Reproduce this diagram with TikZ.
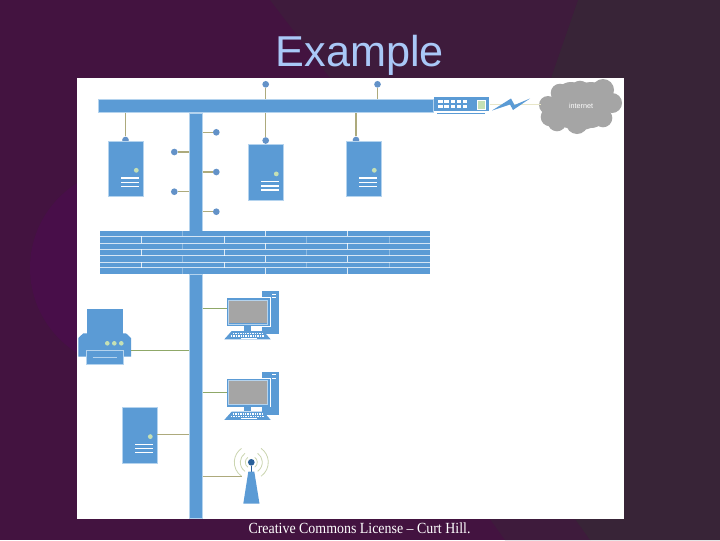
\documentclass[tikz,border=0pt]{standalone}
\usepackage{fontspec}
\setmainfont{Liberation Sans}
\newfontfamily\footfont[FakeStretch=.9]{Liberation Serif}
\usetikzlibrary{calc,positioning}
\definecolor{slidebg}{HTML}{431340}
\definecolor{slideglow}{HTML}{480E49}
\definecolor{slidemid}{HTML}{3E1B3C}
\definecolor{slideend}{HTML}{382437}
\definecolor{titleblue}{HTML}{A9C8F7}
\definecolor{netblue}{HTML}{5B9BD5}
\definecolor{dotblue}{HTML}{6392C8}
\definecolor{edgeblue}{HTML}{B4D3EE}
\definecolor{mastblue}{HTML}{2A6099}
\definecolor{wiretan}{HTML}{ADAA7C}
\definecolor{wiregreen}{HTML}{8FA868}
\definecolor{ledgreen}{HTML}{C5E0B4}
\definecolor{wavegreen}{HTML}{CBD5B0}
\definecolor{paletan}{HTML}{E8E6C8}
\definecolor{cloudgrey}{HTML}{A5A5A5}
\tikzset{
  pxbox/.style 2 args={rectangle,inner sep=0pt,anchor=north west,minimum width=#1*.75pt,minimum height=#2*.75pt},
  netbar/.style={fill=netblue,draw=edgeblue,line width=.3pt},
  netdot/.style={circle,fill=dotblue,inner sep=0pt,minimum size=5pt},
  wire/.style={wiretan,line width=.8pt},
  greenwire/.style={wiregreen,line width=.8pt},
  brick/.style={white,line width=.5pt,opacity=.8},
  fadebrick/.style={white,line width=.5pt,opacity=.3},
  serverunit/.pic={
    \node[pxbox={35}{55.5},netbar] (-box) at (0,0) {};
    \fill[ledgreen] (28.3,29.6) circle (2.4);
    \foreach \ly in {37.3,41.6,45.6}
      \draw[white,line width=1pt] (13,\ly) -- (31,\ly);
  },
  pcunit/.pic={
    \fill[netblue] (34.7,-6.7) rectangle (52,36.3);
    \draw[white,line width=.7pt] (45.3,-3.4) -- (49.3,-3.4) (45.3,0) -- (49.3,0);
    \fill[white] (-.7,-.7) rectangle (44,29);
    \node[pxbox={43}{28},fill=netblue] (-box) at (0,0) {};
    \fill[cloudgrey] (2.3,3) rectangle (39.7,25.6);
    \draw[edgeblue,line width=.4pt] (1.6,2.3) rectangle (40.4,26.3);
    \fill[netblue] (17,28) rectangle (23.7,33);
    \fill[netblue] (4.7,33.3) -- (36.3,33.3) -- (43.7,41.6) -- (-2.7,41.6) -- cycle;
    \draw[white,line width=.9pt,dash pattern=on 1pt off .8pt] (6,35.6) -- (35,35.6) (4,38.2) -- (37,38.2);
    \draw[white,line width=.8pt] (14,40.4) -- (30,40.4);
  }
}
\begin{document}
\begin{tikzpicture}[x=.75pt,y=-.75pt]
  \useasboundingbox (0,0) rectangle (720,540);
  \fill[slidebg] (0,0) rectangle (720,540);
  \fill[slideglow] (130,268) circle (100);
  \fill[slidemid] (270,0) -- (578,0) -- (551,78) -- (575,519) -- (590,540) -- (505,540) -- (490,519) -- (330,78) -- cycle;
  \fill[slideend] (578,0) -- (720,0) -- (720,540) -- (590,540) -- (575,519) -- (551,78) -- cycle;
  \node[pxbox={547}{441},fill=white] (panel) at (77,78) {};
  \node[font=\fontsize{32.4}{36}\selectfont,text=titleblue,inner sep=0pt] (title) at (360,55) {Example};
  \node[font=\footfont\fontsize{11.6}{13}\selectfont,text=white,inner sep=0pt] (credit) at (359.5,528) {Creative Commons License – Curt Hill.};

  % upper network
  \node[pxbox={335}{13.5},netbar] (topbus) at (98,98.7) {};
  \node[pxbox={13.3}{118.3},netbar] (midbus) at (189,112.7) {};
  \node[netdot] (upa) at (265.7,84.3) {};
  \node[netdot] (upb) at (377.5,84.3) {};
  \draw[wire] (upa) -- (upa |- topbus.north);
  \draw[wire] (upb) -- (upb |- topbus.north);

  \node[netdot] (srvadot) at (125.5,140) {};
  \node[netdot] (srvbdot) at (265.7,140.5) {};
  \node[netdot] (srvcdot) at (356,140) {};
  \draw[wire] (srvadot) -- (srvadot |- topbus.south);
  \draw[wire] (srvbdot) -- (srvbdot |- topbus.south);
  \draw[wire] (srvcdot) -- (srvcdot |- topbus.south);
  \pic (srva) at (108,140.7) {serverunit};
  \pic (srvb) at (248,144.3) {serverunit};
  \pic (srvc) at (346,140.7) {serverunit};

  \node[netdot] (ra) at (216.3,132.3) {};
  \node[netdot] (rb) at (216.3,172) {};
  \node[netdot] (rc) at (216.3,211.7) {};
  \node[netdot] (la) at (174.3,152) {};
  \node[netdot] (lb) at (174.3,191.7) {};
  \foreach \hop in {ra,rb,rc}
    \draw[wire] (\hop) -- (\hop -| midbus.east);
  \foreach \hop in {la,lb}
    \draw[wire] (\hop) -- (\hop -| midbus.west);

  % switch, link and cloud
  \node[pxbox={55.7}{14},fill=netblue] (switch) at (433.3,97) {};
  \foreach \px in {440.5,446.6,452.7,458.8,464.9}
    \foreach \py in {101.2,106}
      \fill[white] (\px-2.2,\py-1.5) rectangle (\px+2.2,\py+1.5);
  \fill[ledgreen,draw=white,line width=.3pt] (476.7,99.7) rectangle (485.3,108.7);
  \draw[netblue,line width=1.1pt] (437,113.5) -- (485,113.5);
  \begin{scope}[shift={(581,106)}]
    \fill[cloudgrey] (0,0) circle (24);
    \foreach \cx/\cy/\cr in {-33/-1/9,-21/-13/9.3,-1/-16/9.3,22/-16/11,31/-3/10,22/12/9.3,-4/17/11,-24/16/9.3,-31/11/9.3,-10/-8/16,10/-8/16,10/6/16,-12/6/16}
      \fill[cloudgrey] (\cx,\cy) circle (\cr);
    \node[font=\fontsize{5.4}{6}\selectfont,text=white,inner sep=0pt] (cloud) at (0,0) {internet};
    \coordinate (cloudedge) at (-40,0);
  \end{scope}
  \draw[paletan,line width=.6pt] (switch.east) -- (cloudedge |- switch.east);
  \fill[netblue] (492,110.5) -- (511,98.5) -- (514.5,105) -- (530,98.5) -- (513,110) -- (510,104.5) -- cycle;

  % wall
  \node[pxbox={330}{43.3},fill=netblue] (wall) at (100,230.7) {};
  \foreach \wy in {236.3,243,249.3,255.7,262,267.7}
    \draw[white,opacity=.75,line width=.45pt] (100,\wy) -- (430,\wy);
  \foreach \wt/\wb in {230.7/236.3,243/249.3,255.7/262,267.7/274}{
    \draw[fadebrick] (182.3,\wt) -- (182.3,\wb);
    \draw[brick] (265.3,\wt) -- (265.3,\wb);
    \draw[brick] (347.7,\wt) -- (347.7,\wb);
  }
  \foreach \wt/\wb in {236.3/243,249.3/255.7,262/267.7}{
    \draw[brick] (141.7,\wt) -- (141.7,\wb);
    \draw[brick] (224.3,\wt) -- (224.3,\wb);
    \draw[fadebrick] (306.7,\wt) -- (306.7,\wb);
    \draw[fadebrick] (389.3,\wt) -- (389.3,\wb);
  }

  % lower network
  \node[pxbox={13.3}{244.5},netbar] (lowbus) at (189,273.8) {};
  \pic (pca) at (227,297.7) {pcunit};
  \pic (pcb) at (227,378.3) {pcunit};
  \coordinate (pcaport) at (227,308.3);
  \coordinate (pcbport) at (227,392.3);
  \draw[greenwire] (pcaport -| lowbus.east) -- (pcaport);
  \draw[greenwire] (pcbport -| lowbus.east) -- (pcbport);

  \node[pxbox={36}{24.3},fill=netblue] (paper) at (86.7,309) {};
  \fill[netblue] (78.3,356.7) -- (78.3,338) -- (83.3,333.3) -- (126,333.3) -- (131,338) -- (131,356.7) -- cycle;
  \coordinate (printerport) at (131,350.7);
  \node[pxbox={36.4}{14},fill=netblue,draw=edgeblue,line width=.5pt] (tray) at (86.3,350) {};
  \draw[edgeblue,line width=.7pt] (92.7,357.3) -- (117.3,357.3);
  \foreach \lx in {107.3,114.3,121.3}
    \fill[ledgreen] (\lx,343.3) circle (2.3);
  \draw[greenwire] (printerport) -- (printerport -| lowbus.west);

  \pic (srvd) at (122,407) {serverunit};
  \draw[wire] (srvd-box.east) -- (srvd-box.east -| lowbus.west);

  \node[circle,fill=mastblue,inner sep=0pt,minimum size=5pt] (mast) at (251.3,462.3) {};
  \foreach \wr in {6,11,17}{
    \draw[wavegreen,line width=.6pt] (mast.center) ++(125:\wr) arc (125:235:\wr);
    \draw[wavegreen,line width=.6pt] (mast.center) ++(55:\wr) arc (55:-55:\wr);
  }
  \coordinate (towerfoot) at (241.7,476.3);
  \draw[wire] (towerfoot -| lowbus.east) -- (towerfoot);
  \draw[mastblue,line width=1pt] (mast) -- (251.3,472);
  \fill[netblue] (248.3,471.7) -- (254.3,471.7) -- (259.5,503.7) -- (243.3,503.7) -- cycle;
\end{tikzpicture}
\end{document}
